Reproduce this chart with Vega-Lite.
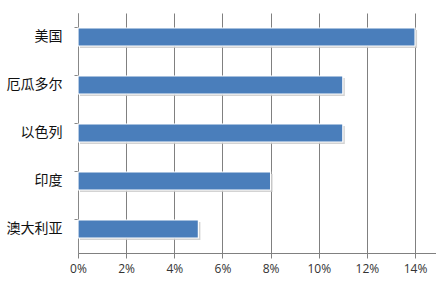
{
  "$schema": "https://vega.github.io/schema/vega-lite/v6.json",
  "autosize": "none",
  "width": 358,
  "height": 240,
  "padding": {"left": 78, "top": 13, "right": 0, "bottom": 32},
  "background": "white",
  "data": {"values": [
    {"country": "美国", "share": 0.14},
    {"country": "厄瓜多尔", "share": 0.11},
    {"country": "以色列", "share": 0.11},
    {"country": "印度", "share": 0.08},
    {"country": "澳大利亚", "share": 0.05}
  ]},
  "config": {
    "view": {"stroke": null},
    "font": "Noto Sans CJK SC"
  },
  "encoding": {
    "y": {
      "field": "country", "type": "nominal", "sort": null, "title": null,
      "scale": {"paddingInner": 0.62, "paddingOuter": 0.31},
      "axis": {
        "labelFontSize": 14, "labelColor": "#111", "labelPadding": 12,
        "ticks": true, "bandPosition": 0, "tickSize": 4, "tickColor": "#888",
        "domainColor": "#888", "labelFont": "Noto Sans CJK SC"
      }
    },
    "x": {
      "field": "share", "type": "quantitative", "title": null,
      "scale": {"domain": [0, 0.1487], "nice": false, "zero": true},
      "axis": {
        "values": [0, 0.02, 0.04, 0.06, 0.08, 0.1, 0.12, 0.14],
        "format": ".0%", "grid": true, "gridColor": "#808080", "gridOpacity": 1,
        "tickColor": "#808080", "tickSize": 5, "domainColor": "#808080",
        "labelFontSize": 12, "labelColor": "#333", "labelPadding": 5,
        "labelFont": "Open Sans", "labelFlush": false
      }
    }
  },
  "layer": [
    {
      "mark": {"type": "bar", "color": "#c8c8c8", "size": 18, "xOffset": 2, "yOffset": 2, "opacity": 0.8}
    },
    {
      "mark": {"type": "bar", "color": "#4a7ebb", "stroke": "white", "strokeWidth": 1.2, "size": 18}
    }
  ]
}
